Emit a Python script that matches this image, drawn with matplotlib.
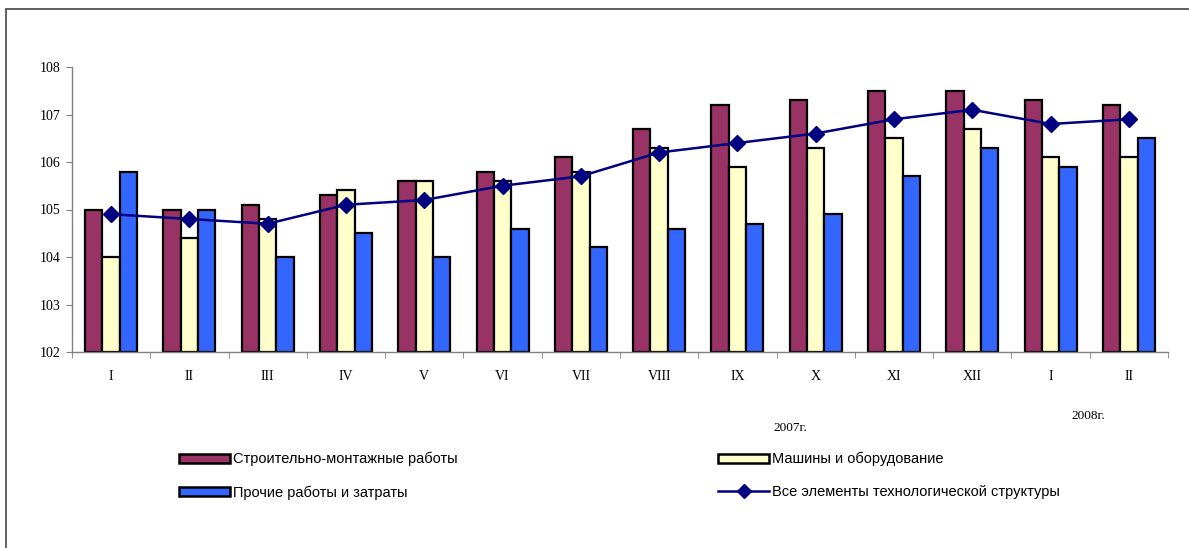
import matplotlib
matplotlib.use('Agg')
import matplotlib.pyplot as plt
import numpy as np
from matplotlib.lines import Line2D
from matplotlib.patches import Patch

# данные (индексы, %)
months = ['I', 'II', 'III', 'IV', 'V', 'VI', 'VII', 'VIII', 'IX', 'X', 'XI', 'XII', 'I', 'II']
smr = [105.0, 105.0, 105.1, 105.3, 105.6, 105.8, 106.1, 106.7, 107.2, 107.3, 107.5, 107.5, 107.3, 107.2]
mash = [104.0, 104.4, 104.8, 105.4, 105.6, 105.6, 105.8, 106.3, 105.9, 106.3, 106.5, 106.7, 106.1, 106.1]
proch = [105.8, 105.0, 104.0, 104.5, 104.0, 104.6, 104.2, 104.6, 104.7, 104.9, 105.7, 106.3, 105.9, 106.5]
vse = [104.9, 104.8, 104.7, 105.1, 105.2, 105.5, 105.7, 106.2, 106.4, 106.6, 106.9, 107.1, 106.8, 106.9]

names = ['Строительно-монтажные работы', 'Машины и оборудование',
         'Прочие работы и затраты', 'Все элементы технологической структуры']
colors = ['#993366', '#FFFFCC', '#3366FF']
line_color = '#000080'
ymin, ymax = 102, 108

W, H = 1189, 548
fig = plt.figure(figsize=(W / 100, H / 100), dpi=100)
ax = fig.add_axes([72 / W, 1 - 352 / H, (1168 - 72) / W, 285 / H])

x = np.arange(len(months))
bw = 0.222
for i, (vals, c) in enumerate(zip([smr, mash, proch], colors)):
    v = np.array(vals)
    ax.bar(x + (i - 1) * bw, v - ymin, bottom=ymin, width=bw, color=c,
           edgecolor='black', linewidth=1.6, zorder=2)
ax.plot(x, vse, color=line_color, lw=1.8, marker='D', ms=8, zorder=3)

ax.set_xlim(-0.5, len(months) - 0.5)
ax.set_ylim(ymin, ymax)
ax.set_yticks(range(ymin, ymax + 1))
ax.set_xticks(x)
ax.set_xticklabels(months)
ax.set_xticks(np.arange(len(months) + 1) - 0.5, minor=True)
ax.tick_params(axis='x', which='major', length=0, pad=13)
ax.tick_params(axis='x', which='minor', length=4, color='#808080', direction='out')
ax.tick_params(axis='y', length=4, color='#808080', pad=4)
for lab in ax.get_xticklabels() + ax.get_yticklabels():
    lab.set_family('Liberation Serif')
    lab.set_fontsize(10)
for s in ['top', 'right']:
    ax.spines[s].set_visible(False)
for s in ['left', 'bottom']:
    ax.spines[s].set_color('#808080')
    ax.spines[s].set_linewidth(1.0)

# подписи годов
fig.text(790 / W, 1 - 428 / H, '2007г.', family='Liberation Serif', fontsize=9.5,
         ha='center', va='center')
fig.text(1088 / W, 1 - 416 / H, '2008г.', family='Liberation Serif', fontsize=9.5,
         ha='center', va='center')

# легенда
lfont = {'family': 'Liberation Sans', 'size': 10.5}
h = [Patch(facecolor=c, edgecolor='black', linewidth=1.8) for c in colors]
h_line = Line2D([], [], color=line_color, lw=1.8, marker='D', ms=7)
kw = dict(loc='upper left', frameon=False, prop=lfont, handlelength=3.5,
          handleheight=0.6, handletextpad=0.2, labelspacing=1.3,
          borderpad=0, borderaxespad=0, numpoints=1)
fig.legend([h[0], h[2]], [names[0], names[2]],
           bbox_to_anchor=(179 / W, 1 - 452 / H), **kw)
fig.legend([h[1], h_line], [names[1], names[3]],
           bbox_to_anchor=(718 / W, 1 - 452 / H), **kw)

# рамка
fig.add_artist(Line2D([6 / W, 6 / W], [0, 1 - 9 / H], transform=fig.transFigure,
                      color='#606060', lw=1.4))
fig.add_artist(Line2D([6 / W, 1], [1 - 9 / H, 1 - 9 / H], transform=fig.transFigure,
                      color='#606060', lw=1.4))

plt.savefig('out.png', dpi=100)
plt.close()
